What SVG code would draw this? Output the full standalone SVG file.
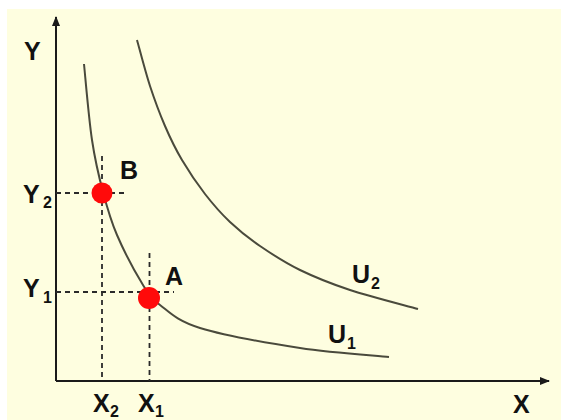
<svg xmlns="http://www.w3.org/2000/svg" width="561" height="420" viewBox="0 0 561 420">
  <defs>
    <style>
      .axis{stroke:#1a1a1a;stroke-width:2;fill:none}
      .curve{stroke:#4a4a3c;stroke-width:2;fill:none}
      .dash{stroke:#2a2a2a;stroke-width:1.8;stroke-dasharray:5 4;fill:none}
      .lbl{font-family:"Liberation Sans",Arial,sans-serif;font-weight:bold;font-size:25px;fill:#111}
      .sub{font-family:"Liberation Sans",Arial,sans-serif;font-weight:bold;font-size:16px;fill:#111}
      .dot{fill:#ff0a0a}
    </style>
    <marker id="arr" markerWidth="10" markerHeight="8" refX="9" refY="4" orient="auto" markerUnits="userSpaceOnUse">
      <path d="M0,0 L10,4 L0,8 Z" fill="#1a1a1a"/>
    </marker>
  </defs>
  <rect x="0" y="0" width="561" height="420" fill="#ffffff"/>
  <rect x="7" y="9" width="554" height="411" fill="#fefee0"/>

  <g id="connectors">
    <line class="axis" x1="56" y1="381" x2="56" y2="17" marker-end="url(#arr)"/>
    <line class="axis" x1="56" y1="381" x2="549" y2="381" marker-end="url(#arr)"/>
    <line class="dash" x1="56" y1="193" x2="127" y2="193"/>
    <line class="dash" x1="102" y1="156" x2="102" y2="381"/>
    <line class="dash" x1="56" y1="292" x2="174" y2="292"/>
    <line class="dash" x1="149.5" y1="253" x2="149.5" y2="381"/>
  </g>

  <g id="U1">
    <path class="curve" d="M84,64 C85.3,76.7 88.8,118.7 92,140 C95.2,161.3 98.8,176.2 103,192 C107.2,207.8 110.3,219.5 117,235 C123.7,250.5 135.8,273.3 143,285 C150.2,296.7 150.5,297.8 160,305 C169.5,312.2 176.7,320.8 200,328 C223.3,335.2 268.5,343.2 300,348 C331.5,352.8 374.2,355.5 389,357"/>
    <text class="lbl" x="328" y="343">U</text><text class="sub" x="347" y="349">1</text>
  </g>
  <g id="U2">
    <path class="curve" d="M137,40 C139.2,47.7 145.3,71.7 150,86 C154.7,100.3 159.7,113.7 165,126 C170.3,138.3 175.3,148.7 182,160 C188.7,171.3 197,183.7 205,194 C213,204.3 220.8,213.3 230,222 C239.2,230.7 248.3,238 260,246 C271.7,254 285,262.7 300,270 C315,277.3 330.3,283.5 350,290 C369.7,296.5 406.7,305.8 418,309"/>
    <text class="lbl" x="352" y="283">U</text><text class="sub" x="371" y="289">2</text>
  </g>
  <g id="pointB">
    <circle class="dot" cx="102" cy="193" r="10.5"/>
    <text class="lbl" x="120" y="179">B</text>
  </g>
  <g id="pointA">
    <circle class="dot" cx="149" cy="298" r="11"/>
    <text class="lbl" x="165" y="285">A</text>
  </g>
  <g id="labels">
    <text class="lbl" x="24" y="60">Y</text>
    <text class="lbl" x="23" y="203">Y</text><text class="sub" x="43" y="208">2</text>
    <text class="lbl" x="23" y="297">Y</text><text class="sub" x="43" y="303">1</text>
    <text class="lbl" x="93" y="412">X</text><text class="sub" x="110" y="417">2</text>
    <text class="lbl" x="138" y="412">X</text><text class="sub" x="155" y="417">1</text>
    <text class="lbl" x="513" y="413">X</text>
  </g>
</svg>
